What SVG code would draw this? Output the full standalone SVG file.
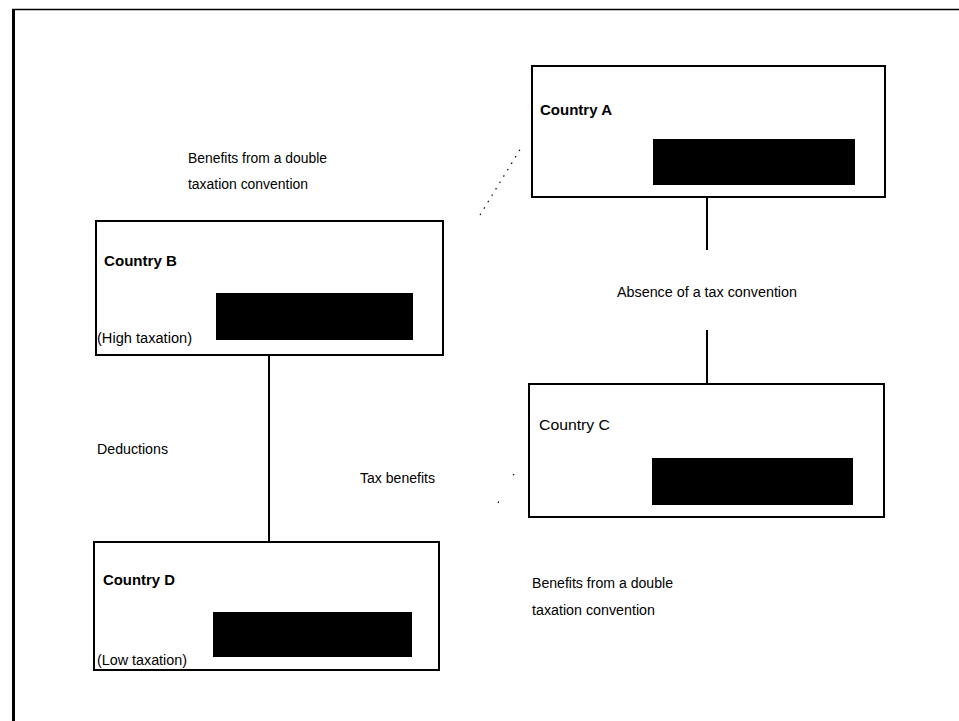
<svg xmlns="http://www.w3.org/2000/svg" width="959" height="721" viewBox="0 0 959 721">
<style>
.box{fill:#fff;stroke:#000;stroke-width:2}
.blk{fill:#000}
.t{font-family:"Liberation Sans",Arial,sans-serif;font-size:14px;fill:#000}
.b{font-weight:bold}
.ln{stroke:#000;stroke-width:2;fill:none}
.dot{stroke:#000;stroke-width:1.2;fill:none;stroke-dasharray:1.5 6}
</style>
<rect width="959" height="721" fill="#fff"/>
<g id="frame">
<line x1="12" y1="9.5" x2="959" y2="9.5" stroke="#000" stroke-width="1.5"/>
<line x1="13.5" y1="9" x2="13.5" y2="721" stroke="#000" stroke-width="3"/>
</g>
<g id="connectors">
<line class="ln" x1="707" y1="197" x2="707" y2="250"/>
<line class="ln" x1="707" y1="330" x2="707" y2="384"/>
<line class="ln" x1="269" y1="355" x2="269" y2="542"/>
<line class="dot" x1="480" y1="215" x2="521" y2="148"/>
<line class="dot" x1="514" y1="474" x2="498" y2="503" style="stroke-dasharray:1.5 30"/>
</g>
<g id="countryA">
<rect class="box" x="532" y="66" width="353" height="131"/>
<rect class="blk" x="653" y="139" width="202" height="46"/>
<text class="t b" x="540" y="115" textLength="72" lengthAdjust="spacingAndGlyphs">Country A</text>
</g>
<g id="countryB">
<rect class="box" x="96" y="221" width="347" height="134"/>
<rect class="blk" x="216" y="293" width="197" height="47"/>
<text class="t b" x="104" y="266" textLength="73" lengthAdjust="spacingAndGlyphs">Country B</text>
<text class="t" x="97" y="343" textLength="95" lengthAdjust="spacingAndGlyphs">(High taxation)</text>
</g>
<g id="countryC">
<rect class="box" x="529" y="384" width="355" height="133"/>
<rect class="blk" x="652" y="458" width="201" height="47"/>
<text class="t" x="539" y="430" textLength="71" lengthAdjust="spacingAndGlyphs">Country C</text>
</g>
<g id="countryD">
<rect class="box" x="94" y="542" width="345" height="128"/>
<rect class="blk" x="213" y="612" width="199" height="45"/>
<text class="t b" x="103" y="585" textLength="72" lengthAdjust="spacingAndGlyphs">Country D</text>
<text class="t" x="97" y="665" textLength="90" lengthAdjust="spacingAndGlyphs">(Low taxation)</text>
</g>
<g id="labels">
<text class="t" x="188" y="163" textLength="139" lengthAdjust="spacingAndGlyphs">Benefits from a double</text>
<text class="t" x="188" y="189" textLength="120" lengthAdjust="spacingAndGlyphs">taxation convention</text>
<text class="t" x="617" y="297" textLength="180" lengthAdjust="spacingAndGlyphs">Absence of a tax convention</text>
<text class="t" x="97" y="454" textLength="71" lengthAdjust="spacingAndGlyphs">Deductions</text>
<text class="t" x="360" y="483" textLength="75" lengthAdjust="spacingAndGlyphs">Tax benefits</text>
<text class="t" x="532" y="588" textLength="141" lengthAdjust="spacingAndGlyphs">Benefits from a double</text>
<text class="t" x="532" y="615" textLength="123" lengthAdjust="spacingAndGlyphs">taxation convention</text>
</g>
</svg>
